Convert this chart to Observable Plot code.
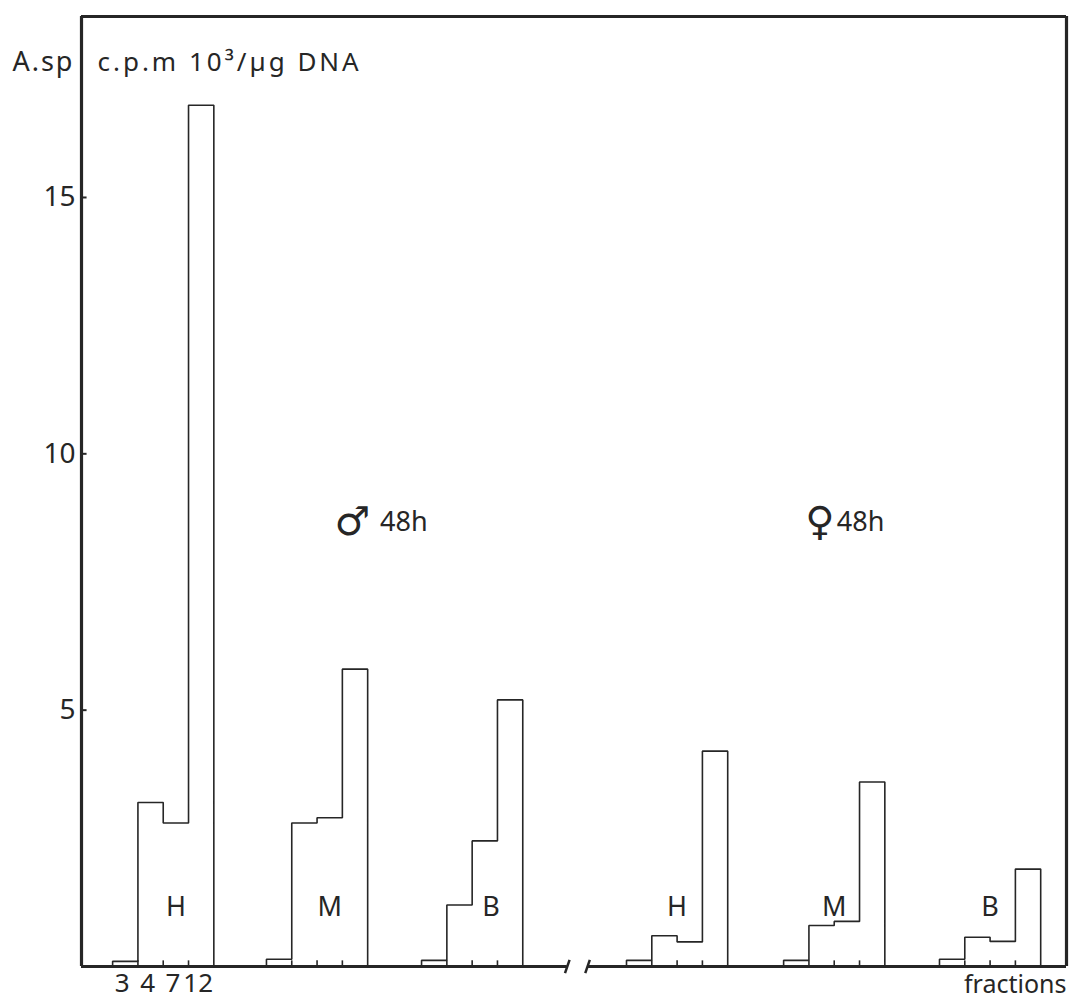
<!DOCTYPE html>
<html><head><meta charset="utf-8">
<script src="https://cdn.jsdelivr.net/npm/d3@7"></script>
<script src="https://cdn.jsdelivr.net/npm/@observablehq/plot@0.6"></script>
<style>body{margin:0;background:#fff}</style>
</head><body><div id="chart"></div>
<script>
// ---- data ----
const groupNames = ["H","M","B","H","M","B"];
const sexSymbols = ["♂","♀"];
const panelTime = "48h";
const maleH   = [0.10, 3.20, 2.80, 16.80];
const maleM   = [0.14, 2.80, 2.90, 5.80];
const maleB   = [0.12, 1.20, 2.45, 5.20];
const femaleH = [0.12, 0.60, 0.48, 4.20];
const femaleM = [0.12, 0.80, 0.88, 3.60];
const femaleB = [0.14, 0.57, 0.49, 1.90];
const fractionLabels = ["3","4","7","12"];
const yTicks = [5, 10, 15];
const yLabel = "A.sp";
const unitLabel = "c.p.m 10³/µg DNA";
const xLabel = "fractions";

// ---- layout ----
const X_MAX = 38.93, Y_MAX = 18.53;
const groupStart = [1.23, 7.31, 13.44, 21.54, 27.75, 33.91];
const labelOffset = [2.5, 2.5, 2.75, 2, 2, 2];
const BREAK = [19.2, 20.0];
const symbolX = [10.0, 28.6];
const timeX = [11.8, 29.85];
const INK = "#262626";

const series = [maleH, maleM, maleB, femaleH, femaleM, femaleB];
const outline = [];
const ticks = [];
series.forEach((vals, g) => {
  const s = groupStart[g];
  outline.push({g, x: s, y: 0});
  vals.forEach((v, i) => {
    outline.push({g, x: s + i, y: v});
    outline.push({g, x: s + i + 1, y: v});
    if (i > 0) ticks.push({x: s + i});
  });
  outline.push({g, x: s + vals.length, y: 0});
});
const groupLabels = groupNames.map((n, g) => ({n, x: groupStart[g] + labelOffset[g]}));
const fracLabels = fractionLabels.map((t, i) => ({t, x: groupStart[0] + i + 0.5}));
const panels = sexSymbols.map((s, i) => ({s, sx: symbolX[i], tx: timeX[i]}));

const chart = Plot.plot({
  width: 1071, height: 999,
  marginTop: 16, marginBottom: 33, marginLeft: 81, marginRight: 5,
  style: {fontFamily: "'Noto Sans', 'DejaVu Sans', sans-serif", color: INK, background: "#fff"},
  x: {domain: [0, X_MAX], axis: null},
  y: {domain: [0, Y_MAX]},
  marks: [
    Plot.axisY(yTicks, {tickSize: 0, tickPadding: 6, fontSize: 28, label: null, tickFormat: d3.format("d")}),
    Plot.ruleY(yTicks, {x1: () => 0, x2: () => 0.22, stroke: INK, strokeWidth: 2}),
    // frame
    Plot.ruleX([0, X_MAX], {y1: () => 0, y2: () => Y_MAX, stroke: INK, strokeWidth: 3.2}),
    Plot.ruleY([Y_MAX], {x1: () => 0, x2: () => X_MAX, stroke: INK, strokeWidth: 3}),
    Plot.ruleY([{x1: 0, x2: BREAK[0]}, {x1: BREAK[1], x2: X_MAX}], {y: () => 0, x1: "x1", x2: "x2", stroke: INK, strokeWidth: 3.2}),
    Plot.link(BREAK, {x1: d => d - 0.09, x2: d => d + 0.09, y1: () => -0.13, y2: () => 0.13, stroke: INK, strokeWidth: 2.5}),
    // inner fraction ticks
    Plot.ruleX(ticks, {x: "x", y1: () => 0, y2: () => 0.11, stroke: INK, strokeWidth: 1.6}),
    // histogram outlines
    Plot.line(outline, {x: "x", y: "y", z: "g", stroke: INK, strokeWidth: 1.6, strokeLinejoin: "miter"}),
    // labels
    Plot.text(groupLabels, {x: "x", y: () => 1.15, text: "n", fontSize: 27, fill: INK}),
    Plot.text(fracLabels, {x: "x", y: () => -0.33, text: "t", fontSize: 26, dx: -3, fill: INK}),
    Plot.text([xLabel], {x: () => X_MAX, y: () => -0.36, text: d => d, textAnchor: "end", fontSize: 25, fill: INK}),
    Plot.text([yLabel], {x: () => -2.73, y: () => 17.63, text: d => d, textAnchor: "start", fontSize: 27, fill: INK, className: "asp"}),
    Plot.text([unitLabel], {x: () => 0.63, y: () => 17.63, text: d => d, textAnchor: "start", fontSize: 26, fill: INK, className: "unit"}),
    Plot.text(panels, {x: "sx", y: () => 8.66, text: "s", textAnchor: "start", fontSize: 40, fill: INK, fontFamily: "DejaVu Sans"}),
    Plot.text(panels, {x: "tx", y: () => 8.66, text: () => panelTime, textAnchor: "start", fontSize: 27, fill: INK})
  ]
});
d3.select(chart).selectAll("g.unit text").style("letter-spacing", "3px");
d3.select(chart).selectAll("g.asp text").style("letter-spacing", "2px");
document.getElementById("chart").appendChild(chart);
</script>
</body></html>
